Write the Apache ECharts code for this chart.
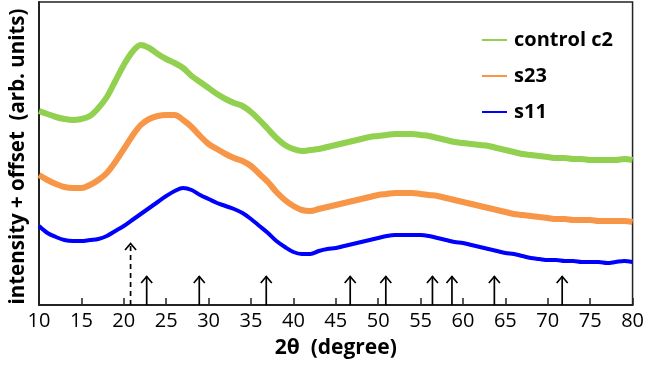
<!DOCTYPE html>
<html>
<head>
<meta charset="utf-8">
<script src="https://cdn.jsdelivr.net/npm/echarts@6/dist/echarts.min.js"></script>
<style>
html,body{margin:0;padding:0;background:#fff;}
#chart{width:647px;height:368px;}
</style>
</head>
<body>
<div id="chart"></div>
<script>
// 2θ positions (degree)
const twoTheta = [10,11,12,13,14,15,16,17,18,19,20,21,22,23,24,25,26,27,28,29,30,31,32,33,34,35,36,37,38,39,40,41,42,43,44,45,46,47,48,49,50,51,52,53,54,55,56,57,58,59,60,61,62,63,64,65,66,67,68,69,70,71,72,73,74,75,76,77,78,79,80];
// intensity + offset (arb. units)
const controlC2 = [194,191,188,186,185,186,189,197,208,224, 240,253,260,257,251,246,242,237,229,223, 217,211,206,202,199,193,185,176,167,160, 156,154,155,156,158,160,162,164,166,168, 169,170,171,171,171,170,169,167,165,163, 162,161,160,159,157,155,153,151,150,149, 148,147,147,146,146,145,145,145,145,146,145];
const s23 = [130,125,121,118,117,117,120,125,132,143, 156,169,180,186,189,190,190,185,178,169, 161,156,151,147,144,139,131,123,113,105, 99,95,94,96,98,100,102,104,106,108, 110,111,112,112,112,111,110,109,107,105, 103,101,99,97,95,93,91,90,89,88, 87,86,86,85,85,85,84,84,84,84,83];
const s11 = [79,72,68,65,64,64,65,66,69,74, 79,85,91,97,103,109,114,117,115,110, 106,102,99,96,92,86,79,72,64,58, 53,51,51,54,56,57,59,61,63,65, 67,69,70,70,70,70,69,67,65,63, 62,60,58,56,54,52,51,49,47,46, 45,45,44,44,43,43,43,42,43,44,43];
// reference peak markers (2θ) and arrow lengths
const peakSolid = [22.7,28.9,36.8,46.7,50.9,56.4,58.7,63.7,71.7];
const peakDashed = [20.8];
const xTicks = {min:10, max:80, interval:5};

const pair = arr => twoTheta.map((t,i)=>[t, arr[i]]);
const arrowData = peakSolid.map(p=>[p,29,0]).concat(peakDashed.map(p=>[p,62,1]));

const FONT = 'Open Sans';
const chart = echarts.init(document.getElementById('chart'), null, {renderer:'canvas'});

function renderArrow(params, api){
  const x = api.value(0), len = api.value(1), dashed = api.value(2);
  const p0 = api.coord([x,0]);
  const p1 = api.coord([x,len]);
  return {type:'group', children:[
    {type:'line', shape:{x1:p0[0],y1:p0[1],x2:p1[0],y2:p1[1]}, style:{stroke:'#000', lineWidth:1.7, lineDash: dashed ? [5,4] : null}},
    {type:'polyline', shape:{points:[[p1[0]-5.5,p1[1]+7],[p1[0],p1[1]+0.5],[p1[0]+5.5,p1[1]+7]]}, style:{stroke:'#000', lineWidth:1.7, fill:null}}
  ]};
}

const lineIcon = 'path://M0,0L25,0L25,2L0,2Z';

chart.setOption({
  animation:false,
  backgroundColor:'#fff',
  grid:{left:37, right:12, top:2, bottom:63, show:true, borderColor:'#222', borderWidth:1.5},
  legend:{
    orient:'vertical', left:477, top:25, itemWidth:25, itemHeight:20, itemGap:16,
    data:[{name:'control c2', icon:lineIcon},{name:'s23', icon:lineIcon},{name:'s11', icon:lineIcon}],
    textStyle:{fontFamily:FONT, fontWeight:'bold', fontSize:20, color:'#000', padding:[0,0,0,2]}
  },
  xAxis:{
    type:'value', min:xTicks.min, max:xTicks.max, interval:xTicks.interval,
    name:'2θ  (degree)', nameLocation:'middle', nameGap:33,
    nameTextStyle:{fontFamily:FONT, fontWeight:'bold', fontSize:21, color:'#000'},
    axisLine:{lineStyle:{color:'#222', width:2}},
    axisTick:{inside:true, length:7, lineStyle:{color:'#222', width:1.5}},
    axisLabel:{fontFamily:FONT, fontSize:20, color:'#000', margin:6},
    splitLine:{show:false}
  },
  yAxis:{
    type:'value', min:0, max:303,
    name:'intensity + offset  (arb. units)', nameLocation:'middle', nameGap:10,
    nameTextStyle:{fontFamily:FONT, fontWeight:'bold', fontSize:20.5, color:'#000', padding:[0,6,0,0]},
    axisLine:{show:true, lineStyle:{color:'#222', width:2}},
    axisTick:{show:false}, axisLabel:{show:false}, splitLine:{show:false}
  },
  series:[
    {name:'control c2', type:'line', data:pair(controlC2), smooth:0.35, symbol:'none', lineStyle:{color:'#92D050', width:6}, itemStyle:{color:'#92D050'}},
    {name:'s23', type:'line', data:pair(s23), smooth:0.35, symbol:'none', lineStyle:{color:'#F79646', width:6}, itemStyle:{color:'#F79646'}},
    {name:'s11', type:'line', data:pair(s11), smooth:0.35, symbol:'none', lineStyle:{color:'#0000FF', width:4}, itemStyle:{color:'#0000FF'}},
    {name:'peaks', type:'custom', renderItem:renderArrow, data:arrowData, encode:{x:0,y:1}, z:5, silent:true}
  ]
});
</script>
</body>
</html>
